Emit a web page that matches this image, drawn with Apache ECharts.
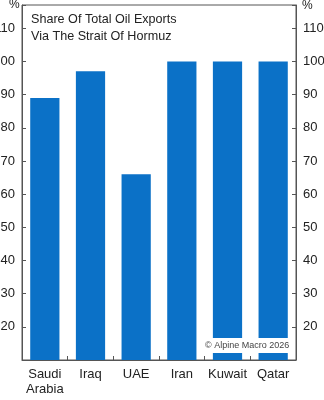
<!DOCTYPE html>
<html><head><meta charset="utf-8">
<script src="https://cdn.jsdelivr.net/npm/echarts@6/dist/echarts.min.js"></script>
<style>html,body{margin:0;padding:0;background:#fff}#c{width:324px;height:400px}</style>
</head><body><div id="c"></div>
<script>
const categories = ['Saudi\nArabia', 'Iraq', 'UAE', 'Iran', 'Kuwait', 'Qatar'];
const shares = [89, 97, 66, 100, 100, 100];
const titleLines = ['Share Of Total Oil Exports', 'Via The Strait Of Hormuz'];
const source = '© Alpine Macro 2026';

const chart = echarts.init(document.getElementById('c'), null, {renderer: 'canvas'});
const font = 'Liberation Sans, Arial, sans-serif';
const yAxisCommon = {
  type: 'value', min: 10, max: 117, interval: 10,
  axisLine: {show: true, lineStyle: {color: '#555', width: 1}},
  axisTick: {show: true, inside: true, length: 4, lineStyle: {color: '#555'}},
  splitLine: {show: false},
  axisLabel: {color: '#222', fontSize: 13, fontFamily: font, margin: 7,
    formatter: v => (v % 10 === 0 && v >= 20 && v <= 110) ? String(v) : ''},
};
chart.setOption({
  animation: false,
  grid: {left: 22, right: 28, top: 5, bottom: 40, show: true, borderColor: '#555', borderWidth: 1,
    containLabel: false, outerBoundsMode: 'none'},
  xAxis: {
    type: 'category', data: categories,
    axisLine: {lineStyle: {color: '#555'}},
    axisTick: {show: true, inside: true, length: 4, alignWithLabel: false, lineStyle: {color: '#555'}},
    axisLabel: {color: '#222', fontSize: 13, fontFamily: font, margin: 7, lineHeight: 15, interval: 0}
  },
  yAxis: [
    Object.assign({}, yAxisCommon, {position: 'left'}),
    Object.assign({}, yAxisCommon, {position: 'right'})
  ],
  series: [{
    type: 'bar', data: shares, barWidth: '64%',
    itemStyle: {color: '#0b71c7'}
  }],
  graphic: [
    {type: 'text', left: 31, top: 11, z: 100, style: {text: titleLines.join('\n'), fontSize: 12.6, lineHeight: 17, fontFamily: font, fill: '#222'}},
    {type: 'text', left: 9, top: -1, z: 100, style: {text: '%', fontSize: 12, fontFamily: font, fill: '#222'}},
    {type: 'text', left: 302, top: 0, z: 100, style: {text: '%', fontSize: 12, fontFamily: font, fill: '#222'}},
    {type: 'text', left: 201, top: 338, z: 100, style: {text: source, fontSize: 9, fontFamily: font, fill: '#444',
      backgroundColor: '#fff', padding: [3, 4, 3, 4]}}
  ]
});
</script></body></html>
